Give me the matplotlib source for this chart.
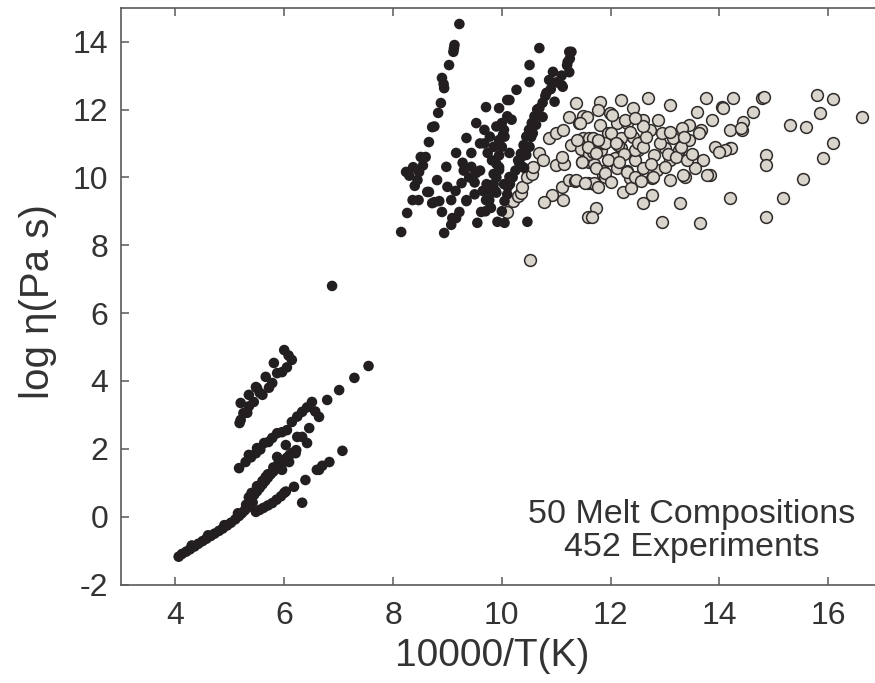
import numpy as np
import matplotlib
matplotlib.use("Agg")
import matplotlib.pyplot as plt

plt.rcParams['font.family'] = ['Liberation Sans', 'DejaVu Sans']
plt.rcParams['axes.unicode_minus'] = False

# black points (high temperature / low T^-1 experiments)
black_x = [
    # low viscosity chain
    4.06, 4.12, 4.20, 4.27, 4.30, 4.35, 4.42, 4.50, 4.57, 4.60, 4.65, 4.72, 4.80, 4.87, 4.90,
    4.95, 5.02, 5.10, 5.15, 5.17, 5.22, 5.27, 5.30, 5.32, 5.37, 5.42,
    5.35, 5.40, 5.45, 5.50, 5.50, 5.55, 5.60, 5.60, 5.65, 5.66, 5.70, 5.70, 5.75, 5.80, 5.80,
    5.85, 5.90, 5.90, 5.95, 5.96, 6.00, 6.05, 6.09, 6.10, 6.15, 6.21, 6.22,
    5.48, 5.55, 5.62, 5.70, 5.78, 5.86, 5.94, 6.00, 6.03, 6.18, 6.39, 6.60, 6.64, 6.70, 6.83, 7.07,
    6.33,
    5.17, 5.29, 5.35, 5.39, 5.48, 5.50, 5.56, 5.63, 5.71, 5.78, 5.87, 5.87, 5.96, 6.03, 6.05,
    6.14, 6.24, 6.24, 6.33, 6.33, 6.42, 6.42, 6.46, 6.51, 6.57, 6.64, 6.79, 7.01, 7.29, 7.55,
    5.18, 5.20, 5.20, 5.25, 5.32, 5.35, 5.35, 5.44, 5.48, 5.50, 5.55, 5.60, 5.66, 5.72, 5.78,
    5.81, 5.87, 5.96, 6.00, 6.05, 6.08, 6.14,
    6.88,
    # steep chain
    8.15, 8.26, 8.30, 8.36, 8.40, 8.45, 8.47, 8.24, 8.37, 8.48, 8.51, 8.55, 8.60, 8.66, 8.72,
    8.76, 8.83, 8.88, 8.94, 8.93, 8.90, 9.03, 9.11, 9.12, 9.13, 9.22,
    # crowded group
    9.71, 9.95, 10.10, 9.53, 9.68, 9.90, 9.95, 9.35, 9.16, 9.44, 9.28, 8.98, 9.44, 9.74, 9.68,
    9.95, 8.81, 9.00, 9.26, 9.40, 9.50, 8.66, 9.07, 8.72, 8.90, 9.22, 9.16, 9.07, 8.94, 9.55,
    9.62, 9.77, 9.88, 9.92, 9.80, 9.60, 9.82, 9.85, 9.78, 9.60, 9.30, 9.15, 8.85, 9.35, 9.50,
    9.65, 9.72, 9.85, 9.90, 9.95, 10.00, 10.05, 10.00, 10.10, 8.63, 8.76, 9.35, 9.71, 9.09,
    9.53, 10.11, 10.41, 10.32, 10.45, 10.51, 10.57, 10.02, 10.47,
    10.00, 10.05, 10.10, 10.15, 10.20, 10.25, 10.30, 10.35, 10.40, 10.45, 10.50, 10.55, 10.60,
    10.65, 10.75, 10.80, 10.90, 11.00, 11.10, 11.20, 11.25,
    9.70, 9.75, 9.80, 9.85, 9.90, 9.95,
    10.69, 11.24, 11.21, 10.51, 10.94, 11.24, 10.87, 10.51, 11.10, 10.27, 10.82, 10.97, 10.14,
    10.69, 10.75, 10.63, 10.18, 10.04, 10.54, 10.45, 10.14, 10.36, 10.38, 10.14, 10.04, 9.90,
    10.05, 11.28, 11.12,
]
black_y = [
    -1.18, -1.10, -1.03, -0.96, -0.85, -0.88, -0.80, -0.72, -0.65, -0.55, -0.57, -0.50, -0.42, -0.35, -0.25,
    -0.26, -0.18, -0.08, 0.10, 0.02, 0.10, 0.18, 0.35, 0.26, 0.34, 0.42,
    0.57, 0.70, 0.65, 0.75, 0.90, 0.85, 0.95, 1.05, 1.05, 1.17, 1.15, 1.25, 1.25, 1.33, 1.45,
    1.42, 1.50, 1.60, 1.58, 1.38, 1.66, 1.74, 1.61, 1.82, 1.88, 1.87, 1.96,
    0.14, 0.20, 0.26, 0.33, 0.40, 0.50, 0.60, 0.70, 0.74, 0.88, 1.08, 1.38, 1.38, 1.50, 1.61, 1.94,
    0.41,
    1.43, 1.61, 1.82, 1.75, 1.87, 2.02, 1.98, 2.17, 2.20, 2.32, 2.46, 1.76, 2.49, 2.11, 2.55,
    2.79, 2.95, 2.35, 3.09, 2.35, 3.22, 2.17, 2.61, 3.38, 3.10, 2.94, 3.44, 3.73, 4.09, 4.44,
    2.76, 2.85, 3.35, 3.05, 3.06, 3.25, 3.59, 3.38, 3.82, 3.79, 3.65, 3.59, 4.12, 3.80, 3.94,
    4.53, 4.23, 4.26, 4.91, 4.40, 4.75, 4.62,
    6.80,
    8.39, 8.95, 10.05, 9.33, 9.75, 9.92, 9.33, 10.16, 10.30, 10.16, 10.60, 10.35, 10.60, 11.04, 11.48,
    11.50, 11.90, 12.19, 12.63, 12.75, 12.93, 13.31, 13.70, 13.80, 13.90, 14.52,
    12.07, 12.04, 12.28, 11.60, 11.40, 11.50, 11.10, 11.16, 10.72, 10.72, 10.43, 10.31, 10.31, 10.72, 11.00,
    10.22, 9.92, 9.72, 9.83, 10.00, 9.85, 9.57, 9.33, 9.24, 8.98, 8.98, 8.80, 8.60, 8.36, 8.66,
    8.98, 9.33, 9.60, 8.69, 9.10, 10.20, 10.50, 10.90, 11.20, 11.00, 10.20, 9.60, 9.30, 9.30, 9.50,
    9.60, 9.80, 10.10, 10.40, 10.65, 10.90, 11.20, 11.60, 11.80, 9.57, 9.27, 9.33, 9.33, 8.80,
    10.13, 9.72, 10.28, 10.43, 10.66, 10.90, 11.30, 11.25, 8.69,
    9.00, 9.30, 9.50, 9.80, 10.00, 10.20, 10.50, 10.70, 10.95, 11.20, 11.40, 11.60, 11.80,
    12.00, 12.20, 12.40, 12.60, 12.80, 13.00, 13.30, 13.50,
    9.00, 9.30, 9.55, 9.80, 10.00, 10.30,
    13.81, 13.70, 13.40, 13.31, 13.11, 13.10, 12.87, 12.81, 12.72, 12.58, 12.49, 12.23, 12.28,
    12.04, 11.78, 11.55, 11.70, 11.40, 11.19, 10.90, 10.72, 10.60, 10.31, 10.01, 9.80, 9.55,
    8.66, 13.70, 12.67,
]

# grey points (low temperature experiments)
grey_x = [
    10.51, 10.10, 10.20, 10.30, 10.36, 10.38, 10.47, 10.55, 10.57, 10.69, 10.75, 10.87, 11.00,
    10.92, 10.78, 11.12, 11.10, 11.00, 11.15, 11.10, 11.24, 11.35, 11.58, 11.70, 11.47, 11.60,
    11.70, 11.86, 11.86, 11.28, 11.45, 11.60, 11.83, 11.12, 11.24, 11.37, 11.42, 11.50, 11.49,
    11.60, 11.86, 11.80, 11.80, 11.77, 11.74, 11.58, 11.65,
    12.20, 12.41, 12.68, 13.09, 13.76, 14.04, 14.25, 11.98, 12.59, 12.87, 13.58, 13.86, 14.19,
    13.45, 13.31, 12.11, 12.30, 13.67, 11.67, 11.95, 12.20, 12.41, 12.72, 13.15, 13.45, 13.62,
    11.67, 11.90, 12.20, 12.50, 13.00, 13.25, 13.91, 14.19, 11.98, 11.74, 12.11, 12.44, 12.59,
    12.85, 13.09, 13.70, 12.30, 11.89, 12.35, 12.76, 13.09, 13.36, 13.55, 13.82, 11.70, 12.22,
    12.38, 12.76, 12.59, 13.28, 14.19, 12.94, 13.64,
    14.06, 14.78, 14.82, 14.61, 14.43, 14.41, 15.79, 16.09, 15.85, 16.62, 15.29, 15.60, 14.22,
    14.10, 14.85, 14.85, 16.09, 15.91, 15.54, 15.17, 14.85, 14.40, 14.00, 13.78, 13.33, 12.78,
    11.56, 11.43, 12.02, 12.26, 11.39, 11.58, 11.76, 12.13, 11.47, 11.74, 12.08, 12.45, 11.37,
    11.52, 11.76, 11.89, 12.31,
    12.00, 12.10, 12.25, 12.35, 12.50, 12.60, 12.65, 12.80, 12.90, 12.95, 13.05, 13.10, 13.20,
    13.30, 13.40, 13.50, 13.35, 12.45, 12.55, 12.00, 11.95, 12.15, 12.60, 12.45, 12.75, 13.00,
]
grey_y = [
    7.57, 8.98, 9.30, 9.45, 9.55, 9.72, 10.01, 10.10, 10.31, 10.72, 10.50, 11.16, 11.30,
    9.48, 9.27, 9.33, 9.72, 10.37, 10.40, 10.60, 9.92, 9.90, 9.83, 9.80, 10.45, 10.45,
    10.40, 10.20, 10.07, 10.96, 10.85, 10.70, 10.80, 11.40, 11.78, 12.20, 11.60, 11.80, 11.16,
    11.15, 11.00, 11.55, 12.23, 12.00, 9.10, 8.83, 8.83,
    12.28, 12.04, 12.34, 12.13, 12.34, 12.07, 12.34, 11.89, 11.69, 11.69, 11.93, 11.69, 11.40,
    11.55, 11.46, 11.60, 11.60, 11.40, 11.16, 11.30, 11.16, 11.19, 11.40, 11.16, 11.10, 11.30,
    10.75, 11.00, 10.87, 10.81, 10.87, 10.80, 10.90, 10.87, 10.51, 10.28, 10.28, 10.51, 10.28,
    10.22, 10.51, 10.51, 10.20, 10.01, 9.98, 9.98, 9.92, 10.01, 10.28, 10.07, 9.83, 9.57,
    9.70, 9.48, 9.24, 9.24, 9.39, 8.69, 8.66,
    12.04, 12.34, 12.37, 11.93, 11.64, 11.40, 12.43, 12.30, 11.90, 11.78, 11.55, 11.49, 10.87,
    10.80, 10.66, 10.37, 11.02, 10.58, 9.95, 9.39, 8.83, 11.45, 10.75, 10.07, 10.07, 10.01,
    11.78, 11.60, 11.84, 11.69, 11.10, 10.90, 11.10, 10.96, 10.45, 10.72, 10.57, 10.80, 9.92,
    9.83, 9.72, 10.13, 10.16,
    11.30, 11.00, 10.70, 11.35, 11.00, 10.90, 11.20, 10.65, 11.00, 11.30, 10.70, 11.35, 10.60,
    10.90, 10.50, 10.70, 11.20, 10.00, 9.90, 9.85, 10.50, 10.45, 11.50, 11.75, 10.40, 10.30,
]

txt = '#333333'
fig = plt.figure(figsize=(8.75, 6.83), dpi=100)
ax = fig.add_axes([0.1383, 0.1442, 0.8704, 0.8445])

ax.scatter(grey_x, grey_y, s=72, facecolor='#d9d5cd', edgecolor='#2e2b2a', linewidth=1.1, zorder=2)
ax.scatter(black_x, black_y, s=58, facecolor='#231f20', edgecolor='none', zorder=3)

ax.set_xlim(3, 17)
ax.set_ylim(-2, 15)
ax.set_xticks([4, 6, 8, 10, 12, 14, 16])
ax.set_yticks([-2, 0, 2, 4, 6, 8, 10, 12, 14])

for sp in ax.spines.values():
    sp.set_color('#5a5a5a')
    sp.set_linewidth(1.2)
ax.tick_params(direction='in', length=6, width=1.1, color='#5a5a5a',
               top=True, right=True, labelsize=23, labelcolor=txt)
ax.tick_params(axis='x', pad=12)
ax.tick_params(axis='y', pad=9)

ax.set_xlabel('10000/T(K)', fontsize=28, color=txt)
ax.set_ylabel('log η(Pa s)', fontsize=29, color=txt)
ax.xaxis.set_label_coords(0.487, -0.092)
ax.yaxis.set_label_coords(-0.084, 0.49)

ax.text(13.49, -0.42, '50 Melt Compositions\n452 Experiments', fontsize=24.5, color=txt,
        ha='center', va='center', linespacing=1.1)

fig.savefig('out.png', dpi=100)
